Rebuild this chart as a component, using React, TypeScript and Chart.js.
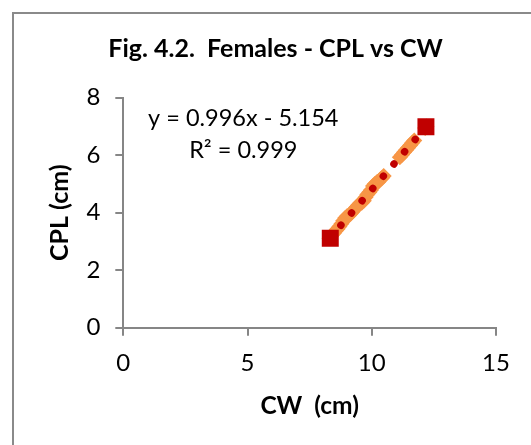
import { useEffect, useRef } from 'react';
import { Chart, registerables } from 'chart.js';

Chart.register(...registerables);

// Observed data (CW, CPL) – orange diamonds
const cwValues = [
  8.30, 8.36, 8.42, 8.48, 8.55, 8.62, 8.70, 8.78, 8.85, 8.93, 9.00, 9.08, 9.15, 9.22,
  9.30, 9.38, 9.45, 9.52, 9.60, 9.68, 9.75, 9.82, 9.90, 9.97, 10.05, 10.12, 10.20,
  10.27, 10.35, 10.42, 10.48, 11.13, 11.22, 11.30, 11.38, 11.46, 11.55, 11.63, 11.71,
  12.15, 12.20,
];
const cplValues = [
  3.11, 3.17, 3.24, 3.29, 3.37, 3.43, 3.52, 3.62, 3.72, 3.82, 3.88, 3.90, 3.96, 4.03,
  4.11, 4.19, 4.26, 4.32, 4.35, 4.42, 4.54, 4.63, 4.71, 4.79, 4.93, 5.00, 5.06,
  5.08, 5.16, 5.22, 5.28, 5.93, 6.02, 6.10, 6.18, 6.26, 6.35, 6.43, 6.51,
  6.95, 7.00,
];

// Extreme points – dark red squares
const extremeCW = [8.33, 12.18];
const extremeCPL = [3.11, 6.99];

// Linear trendline end points
const trendCW = [8.33, 12.18];
const trendCPL = [3.14, 6.98];

const xTicks = [0, 5, 10, 15];
const yTicks = [0, 2, 4, 6, 8];

const titleText = 'Fig. 4.2.  Females - CPL vs CW';
const xTitle = 'CW  (cm)';
const yTitle = 'CPL (cm)';
const equationLines = ['y = 0.996x - 5.154', 'R\u00B2 = 0.999'];

const AXIS = '#868686';
const ORANGE = '#F79646';
const DARKRED = '#C00000';

export default function App() {
  const ref = useRef<HTMLCanvasElement | null>(null);

  useEffect(() => {
    if (!ref.current) return;
    Chart.defaults.font.family = 'Lato';
    Chart.defaults.color = '#000';

    const equationPlugin = {
      id: 'equation',
      afterDatasetsDraw(chart: any) {
        const { ctx, chartArea } = chart;
        ctx.save();
        ctx.font = '23.5px Lato';
        ctx.fillStyle = '#000';
        ctx.textAlign = 'center';
        ctx.textBaseline = 'alphabetic';
        const cx = chartArea.left + 120;
        ctx.fillText(equationLines[0], cx, chartArea.top + 28.5);
        ctx.fillText(equationLines[1], cx, chartArea.top + 60);
        ctx.restore();
      },
    };

    const chart = new Chart(ref.current, {
      type: 'scatter',
      data: {
        datasets: [
          {
            label: 'extremes',
            data: extremeCW.map((x, i) => ({ x, y: extremeCPL[i] })),
            pointStyle: 'rect',
            pointRadius: 12,
            backgroundColor: DARKRED,
            borderColor: DARKRED,
            borderWidth: 0,
            showLine: false,
          },
          {
            label: 'trend',
            data: trendCW.map((x, i) => ({ x, y: trendCPL[i] })),
            showLine: true,
            pointRadius: 0,
            borderColor: DARKRED,
            borderWidth: 7.5,
            borderDash: [0.01, 16.2],
            borderCapStyle: 'round',
            fill: false,
          } as any,
          {
            label: 'CPL',
            data: cwValues.map((x, i) => ({ x, y: cplValues[i] })),
            pointStyle: 'rectRot',
            pointRadius: 8,
            backgroundColor: ORANGE,
            borderColor: ORANGE,
            borderWidth: 0,
            showLine: false,
          },
        ],
      },
      options: {
        animation: false,
        responsive: false,
        events: [],
        layout: { padding: { left: 55.2, right: 35, top: 0, bottom: 0 } },
        plugins: {
          legend: { display: false },
          tooltip: { enabled: false },
          title: {
            display: true,
            text: titleText,
            font: { size: 25, weight: 'bold', family: 'Lato' },
            color: '#000',
            padding: { top: 34.3, bottom: 33.4 },
          },
        },
        scales: {
          x: {
            type: 'linear',
            min: xTicks[0],
            max: xTicks[xTicks.length - 1],
            afterBuildTicks: (s: any) => { s.ticks = xTicks.map((v) => ({ value: v })); },
            ticks: { font: { size: 24 }, padding: 13, color: '#000' },
            grid: { drawOnChartArea: false, drawTicks: true, tickLength: 8, color: AXIS, lineWidth: 2 },
            border: { display: true, color: AXIS, width: 2 },
            title: {
              display: true,
              text: xTitle,
              font: { size: 24.5, weight: 'bold' },
              color: '#000',
              padding: { top: 0, bottom: 24.3 },
            },
            afterFit: (s: any) => { s.height = 445 - 327.7; },
          },
          y: {
            type: 'linear',
            min: yTicks[0],
            max: yTicks[yTicks.length - 1],
            afterBuildTicks: (s: any) => { s.ticks = yTicks.map((v) => ({ value: v })); },
            ticks: { font: { size: 24 }, padding: 15, color: '#000' },
            grid: { drawOnChartArea: false, drawTicks: true, tickLength: 8, color: AXIS, lineWidth: 2 },
            border: { display: true, color: AXIS, width: 2 },
            title: {
              display: true,
              text: yTitle,
              font: { size: 25, weight: 'bold' },
              color: '#000',
              padding: { top: -10.2, bottom: 0 },
            },
            afterFit: (s: any) => { s.width = 123.3 - 55.2; },
          },
        },
      },
      plugins: [equationPlugin],
    } as any);

    return () => chart.destroy();
  }, []);

  return (
    <div style={{ position: 'fixed', left: 0, top: 0, width: 531, height: 445, background: '#fff', overflow: 'hidden' }}>
      <div
        style={{
          position: 'absolute',
          left: 12,
          top: 12,
          width: 600,
          height: 600,
          borderLeft: '2px solid #8a8a8a',
          borderTop: '2px solid #8a8a8a',
        }}
      />
      <canvas ref={ref} width={531} height={445} style={{ position: 'absolute', left: 0, top: 0, width: 531, height: 445 }} />
    </div>
  );
}
